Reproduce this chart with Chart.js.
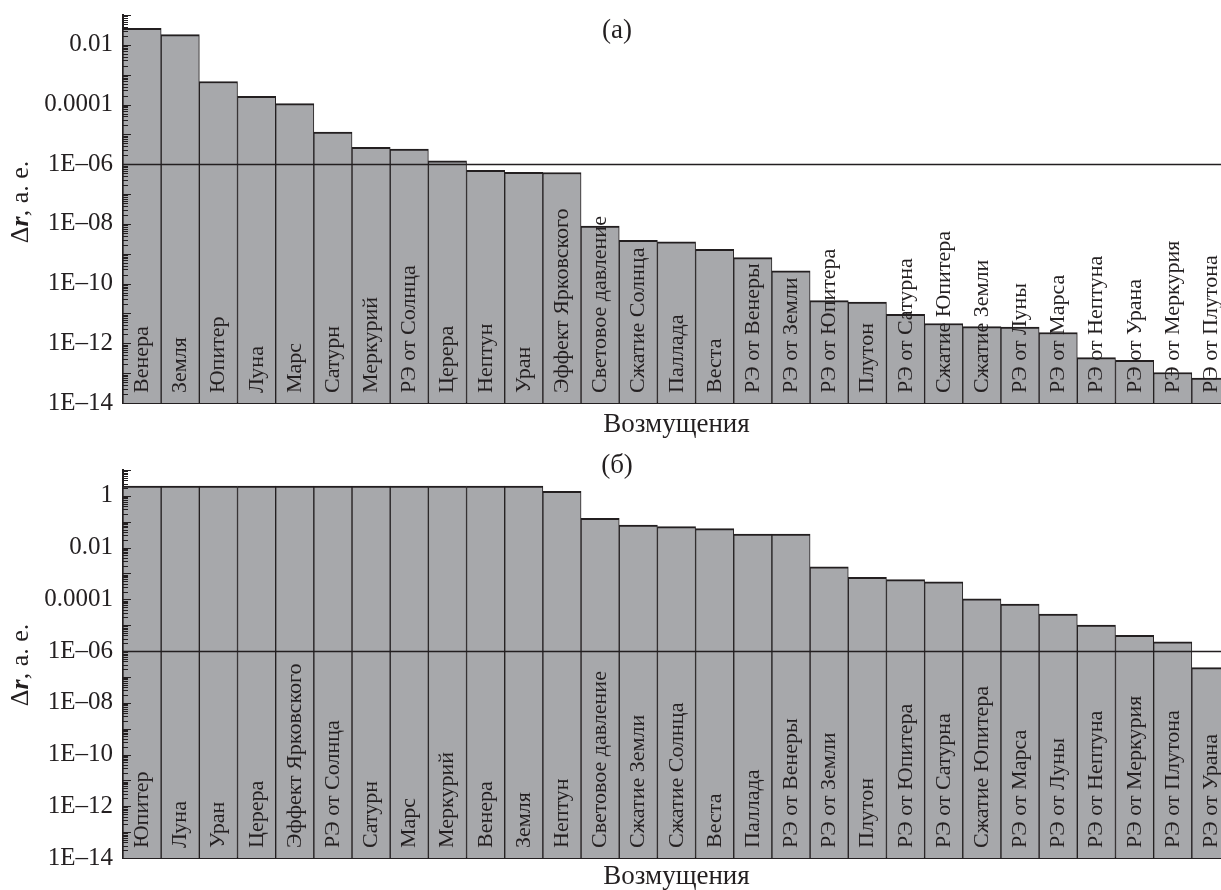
<!DOCTYPE html>
<html lang="ru">
<head>
<meta charset="utf-8">
<title>Возмущения</title>
<script src="https://cdn.jsdelivr.net/npm/chart.js@4.4.1/dist/chart.umd.min.js"></script>
<style>
  body {
    margin: 0;
    background: #fff;
    width: 1221px;
    height: 890px;
    overflow: hidden;
    position: relative;
  }
  .panel {
    position: absolute;
    left: 0;
  }
  #panelA {
    top: 0;
  }
  #panelB {
    top: 440px;
  }
</style>
</head>
<body>
<div class="panel" id="panelA"><canvas id="graficoA" width="1230" height="440"></canvas></div>
<div class="panel" id="panelB"><canvas id="graficoB" width="1230" height="450"></canvas></div>
<script>
// Panel (а): perturbaciones ordenadas de mayor a menor
const categoriasA = [
  "Венера", "Земля", "Юпитер", "Луна", "Марс", "Сатурн", "Меркурий",
  "РЭ от Солнца", "Церера", "Нептун", "Уран", "Эффект Ярковского",
  "Световое давление", "Сжатие Солнца", "Паллада", "Веста", "РЭ от Венеры",
  "РЭ от Земли", "РЭ от Юпитера", "Плутон", "РЭ от Сатурна", "Сжатие Юпитера",
  "Сжатие Земли", "РЭ от Луны", "РЭ от Марса", "РЭ от Нептуна", "РЭ от Урана",
  "РЭ от Меркурия", "РЭ от Плутона",
];
const valoresA = [
  0.036, 0.022, 5.9e-4, 1.9e-4, 1.07e-4, 1.2e-5, 3.7e-6,
  3.2e-6, 1.3e-6, 6.3e-7, 5.4e-7, 5.3e-7,
  8.5e-9, 2.8e-9, 2.5e-9, 1.4e-9, 7.4e-10,
  2.7e-10, 2.7e-11, 2.4e-11, 9.3e-12, 4.6e-12,
  3.6e-12, 3.5e-12, 2.3e-12, 3.3e-13, 2.7e-13,
  1.05e-13, 6.8e-14,
];

// Panel (б)
const categoriasB = [
  "Юпитер", "Луна", "Уран", "Церера", "Эффект Ярковского", "РЭ от Солнца",
  "Сатурн", "Марс", "Меркурий", "Венера", "Земля", "Нептун",
  "Световое давление", "Сжатие Земли", "Сжатие Солнца", "Веста", "Паллада",
  "РЭ от Венеры", "РЭ от Земли", "Плутон", "РЭ от Юпитера", "РЭ от Сатурна",
  "Сжатие Юпитера", "РЭ от Марса", "РЭ от Луны", "РЭ от Нептуна",
  "РЭ от Меркурия", "РЭ от Плутона", "РЭ от Урана",
];
const valoresB = [
  2.4, 2.4, 2.4, 2.4, 2.4, 2.4,
  2.4, 2.4, 2.4, 2.4, 2.4, 1.5,
  0.135, 0.074, 0.065, 0.054, 0.033,
  0.033, 1.8e-3, 7.1e-4, 5.8e-4, 4.7e-4,
  1.05e-4, 6.5e-5, 2.7e-5, 1.0e-5,
  4.1e-6, 2.3e-6, 2.3e-7,
];

// Límites de los ejes logarítmicos y la línea de referencia
const rangoA = [1e-14, 0.1];
const rangoB = [1e-14, 10];
const umbral = 1e-6;

const fuente = '"Liberation Serif", "Times New Roman", serif';
const tinta = "#231f20";
const relleno = "#a7a8ab";

// Todas las marcas 1..9 x 10^n dentro del rango
function marcasLog(min, max) {
  const lista = [];
  const desde = Math.round(Math.log10(min));
  const hasta = Math.round(Math.log10(max));
  for (let e = desde; e <= hasta; e++) {
    for (let m = 1; m <= 9; m++) {
      const v = m * Math.pow(10, e);
      if (v >= min * 0.999 && v <= max * 1.001) lista.push({ value: v });
    }
  }
  return lista;
}

function esDecada(valor) {
  const e = Math.log10(valor);
  return Math.abs(e - Math.round(e)) < 1e-6;
}

// Solo se rotulan las décadas pares: 1, 0.01, 0.0001, 1E–06 ...
function etiquetaLog(valor) {
  if (!esDecada(valor)) return "";
  const n = Math.round(Math.log10(valor));
  if (n % 2 !== 0) return "";
  if (n >= 0) return String(Math.pow(10, n));
  if (n >= -4) return valor.toFixed(-n);
  return "1E–" + String(-n).padStart(2, "0");
}

// Línea de 1E-06, nombres dentro de las barras, marcas internas y títulos
const dibujoExtra = {
  id: "dibujoExtra",
  afterDatasetsDraw(chart, args, opts) {
    const { ctx, chartArea } = chart;
    const y = chart.scales.y;
    const meta = chart.getDatasetMeta(0);
    ctx.save();

    const py = Math.round(y.getPixelForValue(umbral)) + 0.5;
    ctx.strokeStyle = tinta;
    ctx.lineWidth = 1.5;
    ctx.beginPath();
    ctx.moveTo(chartArea.left, py);
    ctx.lineTo(chartArea.right, py);
    ctx.stroke();

    ctx.fillStyle = tinta;
    ctx.font = "22px " + fuente;
    ctx.textAlign = "left";
    ctx.textBaseline = "alphabetic";
    meta.data.forEach((barra, i) => {
      ctx.save();
      ctx.translate(barra.x + 6, chartArea.bottom - 10);
      ctx.rotate(-Math.PI / 2);
      ctx.fillText(chart.data.labels[i], 0, 0);
      ctx.restore();
    });

    ctx.lineWidth = 1;
    y.ticks.forEach((t) => {
      const ty = Math.round(y.getPixelForValue(t.value)) + 0.5;
      const largo = esDecada(t.value) ? 8 : 5;
      ctx.beginPath();
      ctx.moveTo(chartArea.left, ty);
      ctx.lineTo(chartArea.left + largo, ty);
      ctx.stroke();
    });

    // letra del panel
    ctx.font = "27px " + fuente;
    ctx.textAlign = "center";
    ctx.textBaseline = "middle";
    ctx.fillText(opts.letra, chart.width / 2 + 2, opts.letraY);

    // título del eje y: Δr en cursiva negrita, resto normal
    const partes = [
      ["Δ", "26px " + fuente],
      ["r", "italic bold 26px " + fuente],
      [", а. е.", "26px " + fuente],
    ];
    let total = 0;
    partes.forEach((p) => {
      ctx.font = p[1];
      total += ctx.measureText(p[0]).width;
    });
    ctx.translate(28, opts.tituloY);
    ctx.rotate(-Math.PI / 2);
    ctx.textAlign = "left";
    ctx.textBaseline = "alphabetic";
    let x = -total / 2;
    partes.forEach((p) => {
      ctx.font = p[1];
      ctx.fillText(p[0], x, 0);
      x += ctx.measureText(p[0]).width;
    });
    ctx.restore();
  },
};

function armarPanel(id, categorias, valores, rango, cfg) {
  return new Chart(document.getElementById(id), {
    type: "bar",
    data: {
      labels: categorias,
      datasets: [
        {
          data: valores,
          backgroundColor: relleno,
          borderColor: tinta,
          borderWidth: { top: 2, left: 1, right: 1, bottom: 0 },
          borderSkipped: "start",
          categoryPercentage: 1,
          barPercentage: 1,
        },
      ],
    },
    options: {
      responsive: false,
      animation: false,
      events: [],
      layout: {
        padding: { top: cfg.arriba, left: 0, right: 0, bottom: 0 },
      },
      plugins: {
        legend: { display: false },
        tooltip: { enabled: false },
        title: { display: false },
        dibujoExtra: { letra: cfg.letra, letraY: cfg.letraY, tituloY: cfg.tituloY },
      },
      scales: {
        x: {
          type: "category",
          grid: { display: false, drawTicks: false },
          ticks: { display: false },
          border: { display: true, color: tinta, width: 2 },
          title: {
            display: true,
            text: "Возмущения",
            color: tinta,
            font: { family: fuente, size: 27, lineHeight: 1 },
            padding: { top: 0, bottom: cfg.tituloX },
          },
          afterFit(scale) {
            scale.height = cfg.altoX;
          },
        },
        y: {
          type: "logarithmic",
          min: rango[0],
          max: rango[1],
          grid: { display: false, drawTicks: false },
          border: { display: true, color: tinta, width: 2 },
          afterBuildTicks(scale) {
            scale.ticks = marcasLog(rango[0], rango[1]);
          },
          ticks: {
            autoSkip: false,
            padding: 10,
            color: tinta,
            font: { family: fuente, size: 25, lineHeight: 1 },
            callback: etiquetaLog,
          },
          afterFit(scale) {
            // el área del gráfico queda fijada solo por layout.padding
            scale.width = 123;
            scale.paddingTop = 0;
            scale.paddingBottom = 0;
          },
        },
      },
    },
    plugins: [dibujoExtra],
  });
}

armarPanel("graficoA", categoriasA, valoresA, rangoA, {
  arriba: 15, altoX: 37, tituloX: 2, letra: "(а)", letraY: 31, tituloY: 202,
});
armarPanel("graficoB", categoriasB, valoresB, rangoB, {
  arriba: 30, altoX: 32, tituloX: 0, letra: "(б)", letraY: 26, tituloY: 225,
});
</script>
</body>
</html>
